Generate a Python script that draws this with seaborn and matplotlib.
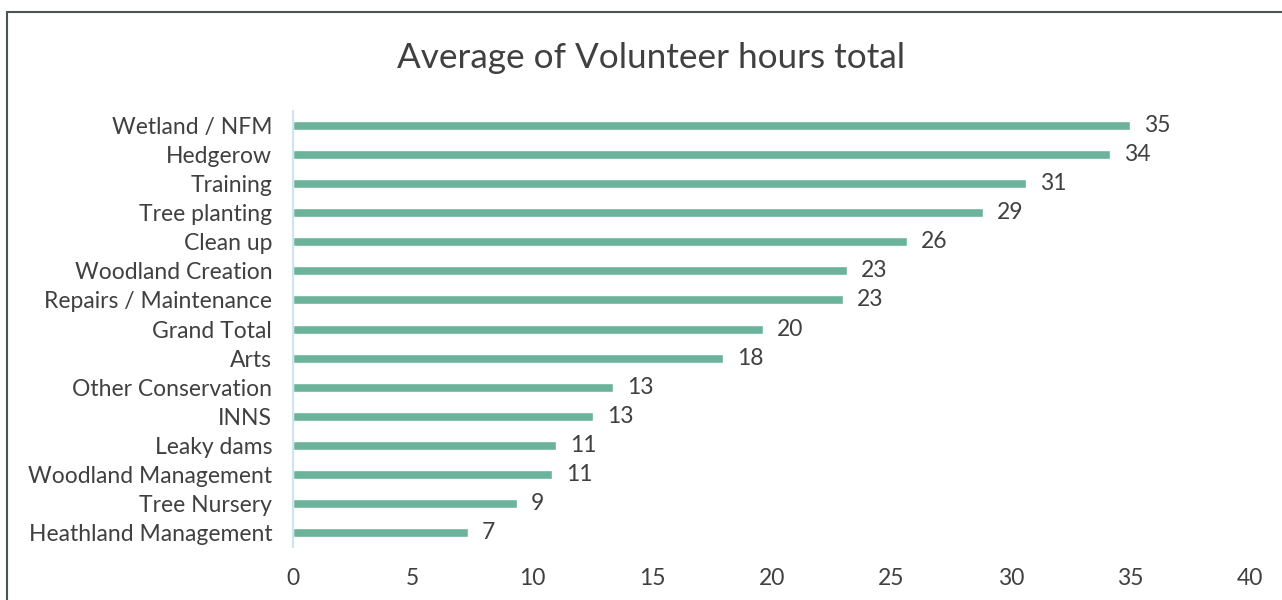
import matplotlib
matplotlib.use('agg')
import matplotlib.pyplot as plt
import seaborn as sns
import pandas as pd
from matplotlib.lines import Line2D

categories = ["Wetland / NFM", "Hedgerow", "Training", "Tree planting", "Clean up",
              "Woodland Creation", "Repairs / Maintenance", "Grand Total", "Arts",
              "Other Conservation", "INNS", "Leaky dams", "Woodland Management",
              "Tree Nursery", "Heathland Management"]
hours = [34.98, 34.15, 30.64, 28.84, 25.66, 23.16, 22.99, 19.64, 17.97,
         13.37, 12.55, 10.99, 10.83, 9.36, 7.31]
xticks = [0, 5, 10, 15, 20, 25, 30, 35, 40]

df = pd.DataFrame({"activity": categories, "hours": hours})

sns.set_style("white")
plt.rcParams['font.family'] = ['Lato', 'DejaVu Sans']
text_color = '#404040'

fig = plt.figure(figsize=(12.82, 6), dpi=100)
ax = fig.add_axes([0.2286, 0.0883, 0.7465, 0.7267])

sns.barplot(data=df, x="hours", y="activity", color='#6bb39a', saturation=1,
            width=0.31, orient='h', ax=ax)

for c in ax.containers:
    ax.bar_label(c, labels=[f"{v:.0f}" for v in hours], padding=10,
                 fontsize=16.5, color=text_color)

ax.set_xlim(0, 40)
ax.set_xticks(xticks)
ax.set_xlabel("")
ax.set_ylabel("")
ax.tick_params(axis='x', length=0, pad=15, labelsize=16.5, labelcolor=text_color)
ax.tick_params(axis='y', length=0, pad=15, labelsize=16.5, labelcolor=text_color)
for s in ['top', 'right', 'bottom']:
    ax.spines[s].set_visible(False)
ax.spines['left'].set_color('#cde4f3')
ax.spines['left'].set_linewidth(1.5)

fig.text(0.508, 0.903, "Average of Volunteer hours total", ha='center', va='center',
         fontsize=25.3, color=text_color)

# chart frame (left and top edges visible in the crop)
frame_color = '#4a5452'
fig.add_artist(Line2D([7 / 1282, 7 / 1282], [0, 1 - 12 / 600], color=frame_color, lw=1.5,
                      transform=fig.transFigure))
fig.add_artist(Line2D([7 / 1282, 1], [1 - 12 / 600, 1 - 12 / 600], color=frame_color, lw=1.5,
                      transform=fig.transFigure))

fig.savefig("out.png", dpi=100)
